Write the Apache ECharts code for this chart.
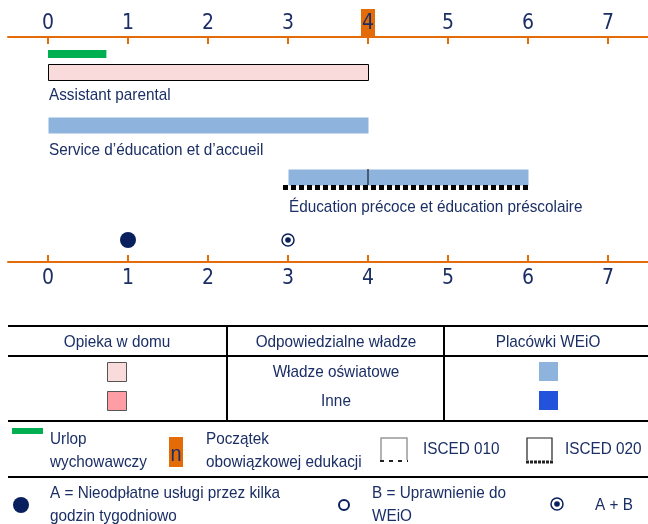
<!DOCTYPE html>
<html>
<head>
<meta charset="utf-8">
<script src="https://cdn.jsdelivr.net/npm/echarts@6/dist/echarts.min.js"></script>
<style>
html, body { margin: 0; padding: 0; background: #fff; }
#chart { width: 648px; height: 524px; }
</style>
</head>
<body>
<div id="chart"></div>
<script>
// ages (years) on the axis
var ageTicks = [0, 1, 2, 3, 4, 5, 6, 7];
var compulsoryStart = 4;

// parental leave (years)
var leaveFrom = [0];
var leaveTo = [0.73];

// services: from / to age, kind
var serviceNames = ['Assistant parental', 'Service d\u2019éducation et d\u2019accueil', 'Éducation précoce et éducation préscolaire'];
var serviceFrom = [0, 0, 3];
var serviceTo = [4, 4, 6];
var serviceKind = ['home', 'weio', 'weio'];

// ISCED 020 part of the last service, and the 010/020 split age
var isced020From = [3];
var isced020To = [6];
var iscedSplit = [4];

// access guarantees: age, type (A, B, AB)
var accessAges = [1, 3];
var accessType = ['A', 'AB'];

// ---- look ----
var NAVY = '#1b2f66';
var ORANGE = '#e36c09';
var AXFONT = '"DejaVu Sans Condensed", "Liberation Sans", sans-serif';
var FONT = '"Liberation Sans", Arial, sans-serif';
var NARROW = 0.9; // squeeze Liberation Sans to look like Arial Narrow
var fill = { home: '#fadbdc', homeOther: '#fe9ea4', weio: '#8eb4de', weioOther: '#2453db' };
// vertical lanes inside the plot (px from top axis)
var lane = { leave: 17, services: [35, 88, 140], access: 203 };

var chart = echarts.init(document.getElementById('chart'));

function axisCommon(pos) {
    return {
        type: 'value', position: pos, min: -0.5, max: 7.5,
        axisLine: { show: true, onZero: false, lineStyle: { color: ORANGE, width: 2 } },
        axisTick: { show: true, inside: true, length: 7, customValues: ageTicks, lineStyle: { color: ORANGE, width: 2 } },
        splitLine: { show: false }
    };
}

var topAxis = axisCommon('top');
topAxis.axisLabel = {
    customValues: ageTicks, margin: 0,
    formatter: function (v) { return v === compulsoryStart ? '{hl|' + v + '}' : '{n|' + v + '}'; },
    rich: {
        n: { fontFamily: AXFONT, fontSize: 21, color: NAVY, padding: [4, 1, 3, 1] },
        hl: { fontFamily: AXFONT, fontSize: 21, color: NAVY, padding: [4, 1, 3, 1], backgroundColor: ORANGE }
    }
};
var bottomAxis = axisCommon('bottom');
bottomAxis.axisLabel = { customValues: ageTicks, margin: 6, fontFamily: AXFONT, fontSize: 21, color: NAVY };

var leaveData = leaveFrom.map(function (f, i) { return [f, leaveTo[i]]; });
var serviceData = serviceNames.map(function (n, i) { return [serviceFrom[i], serviceTo[i], i]; });
var iscedData = isced020From.map(function (f, i) { return [f, isced020To[i]]; });
var accessData = accessAges.map(function (a, i) { return [a, lane.access, accessType[i]]; });

var option = {
    animation: false,
    grid: { left: 8, right: -2, top: 37, bottom: 262 },
    xAxis: [topAxis, bottomAxis],
    yAxis: { type: 'value', min: 0, max: 225, inverse: true, show: false },
    series: [
        {
            type: 'custom', data: leaveData,
            renderItem: function (params, api) {
                var a = api.coord([api.value(0), lane.leave]);
                var b = api.coord([api.value(1), lane.leave]);
                return { type: 'rect', shape: { x: a[0], y: a[1] - 4, width: b[0] - a[0], height: 8 }, style: { fill: '#00b050' } };
            }
        },
        {
            type: 'custom', data: serviceData,
            renderItem: function (params, api) {
                var i = api.value(2);
                var y = lane.services[i];
                var a = api.coord([api.value(0), y]);
                var b = api.coord([api.value(1), y]);
                var home = serviceKind[i] === 'home';
                var labelGap = i === 2 ? 30 : (i === 1 ? 25 : 23);
                return {
                    type: 'group',
                    children: [
                        {
                            type: 'rect',
                            shape: { x: a[0] + 0.5, y: a[1] - 7.5, width: b[0] - a[0], height: 16 },
                            style: home ? { fill: fill.home, stroke: '#000', lineWidth: 1 } : { fill: fill.weio }
                        },
                        {
                            type: 'text', x: a[0] + 1, y: a[1] + labelGap, scaleX: NARROW,
                            style: { text: serviceNames[i], fontFamily: FONT, fontSize: 17, fill: NAVY, verticalAlign: 'middle' }
                        }
                    ]
                };
            }
        },
        {
            type: 'custom', data: iscedData,
            renderItem: function (params, api) {
                var y = lane.services[2];
                var a = api.coord([api.value(0), y]);
                var b = api.coord([api.value(1), y]);
                return {
                    type: 'line',
                    shape: { x1: a[0] - 5, y1: a[1] + 10.5, x2: b[0], y2: a[1] + 10.5 },
                    style: { stroke: '#000', lineWidth: 5, lineDash: [5, 3] }
                };
            }
        },
        {
            type: 'custom', data: iscedSplit.map(function (v) { return [v]; }),
            renderItem: function (params, api) {
                var y = lane.services[2];
                var a = api.coord([api.value(0), y]);
                return { type: 'line', shape: { x1: a[0], y1: a[1] - 8, x2: a[0], y2: a[1] + 8 }, style: { stroke: '#000', lineWidth: 1 } };
            }
        },
        {
            type: 'custom', data: accessData,
            renderItem: function (params, api) {
                var p = api.coord([api.value(0), api.value(1)]);
                var t = api.value(2);
                if (t === 'A') return { type: 'circle', shape: { cx: p[0], cy: p[1], r: 8 }, style: { fill: '#0a205e' } };
                if (t === 'B') return { type: 'circle', shape: { cx: p[0], cy: p[1], r: 5 }, style: { fill: '#fff', stroke: '#0a205e', lineWidth: 2 } };
                return {
                    type: 'group', children: [
                        { type: 'circle', shape: { cx: p[0], cy: p[1], r: 6 }, style: { fill: '#fff', stroke: '#0a205e', lineWidth: 1.5 } },
                        { type: 'circle', shape: { cx: p[0], cy: p[1], r: 2.8 }, style: { fill: '#0a205e' } }
                    ]
                };
            }
        }
    ],
    graphic: []
};

// ---- table + legend (static key) ----
var g = option.graphic;
function hline(y, w) { g.push({ type: 'line', shape: { x1: 8, y1: y, x2: 648, y2: y }, style: { stroke: '#000', lineWidth: w || 2 } }); }
function vline(x, y1, y2) { g.push({ type: 'line', shape: { x1: x, y1: y1, x2: x, y2: y2 }, style: { stroke: '#000', lineWidth: 2 } }); }
function txt(x, y, s, align, size) {
    g.push({ type: 'text', x: x, y: y, scaleX: NARROW, style: { text: s, fontFamily: FONT, fontSize: size || 17, fill: NAVY, align: align || 'left', verticalAlign: 'middle', lineHeight: 23 } });
}
function box(x, y, w, h, f, stroke) {
    g.push({ type: 'rect', shape: { x: x, y: y, width: w, height: h }, style: stroke ? { fill: f, stroke: stroke, lineWidth: 1 } : { fill: f } });
}

hline(326); hline(356); hline(421); hline(477);
vline(227, 326, 421); vline(444, 326, 421);
txt(117, 342, 'Opieka w domu', 'center');
txt(336, 342, 'Odpowiedzialne władze', 'center');
txt(548, 342, 'Placówki WEiO', 'center');
txt(336, 372, 'Władze oświatowe', 'center');
txt(336, 401, 'Inne', 'center');
box(107.5, 362.5, 19, 19, fill.home, '#555');
box(107.5, 391.5, 19, 19, fill.homeOther, '#555');
box(539, 362, 19, 19, fill.weio);
box(539, 391, 19, 19, fill.weioOther);

// row 1
box(12, 428, 31, 6, '#00b050');
txt(50, 451, 'Urlop\nwychowawczy');
box(169, 437, 14, 30, ORANGE);
txt(176, 455, 'n', 'center', 22);
txt(206, 451, 'Początek\nobowiązkowej edukacji');
g.push({ type: 'polyline', shape: { points: [[381, 460], [381, 438], [407, 438], [407, 460]] }, style: { stroke: '#999', lineWidth: 1.5, fill: null } });
g.push({ type: 'line', shape: { x1: 380, y1: 461, x2: 408, y2: 461 }, style: { stroke: '#222', lineWidth: 2, lineDash: [4, 5] } });
txt(423, 449, 'ISCED 010');
g.push({ type: 'polyline', shape: { points: [[527, 460], [527, 438], [552, 438], [552, 460]] }, style: { stroke: '#222', lineWidth: 1.2, fill: null } });
g.push({ type: 'line', shape: { x1: 526, y1: 462, x2: 553, y2: 462 }, style: { stroke: '#222', lineWidth: 3, lineDash: [3, 1] } });
txt(565, 449, 'ISCED 020');

// row 2
g.push({ type: 'circle', shape: { cx: 21, cy: 505, r: 8 }, style: { fill: '#0a205e' } });
txt(50, 505, 'A = Nieodpłatne usługi przez kilka\ngodzin tygodniowo');
g.push({ type: 'circle', shape: { cx: 344, cy: 505, r: 5 }, style: { fill: '#fff', stroke: '#0a205e', lineWidth: 2 } });
txt(372, 505, 'B = Uprawnienie do\nWEiO');
g.push({ type: 'circle', shape: { cx: 557, cy: 504, r: 6 }, style: { fill: '#fff', stroke: '#0a205e', lineWidth: 1.5 } });
g.push({ type: 'circle', shape: { cx: 557, cy: 504, r: 2.8 }, style: { fill: '#0a205e' } });
txt(595, 505, 'A + B');

chart.setOption(option);
</script>
</body>
</html>
